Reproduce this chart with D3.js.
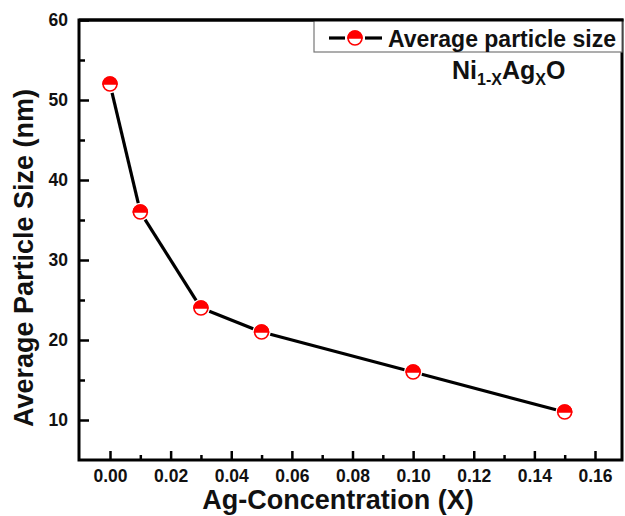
<!DOCTYPE html>
<html><head><meta charset="utf-8">
<script src="https://cdn.jsdelivr.net/npm/d3@7"></script>
<style>
body{margin:0;background:#fff;}
svg{display:block;font-family:"Liberation Sans",Arial,sans-serif;font-weight:bold;}
</style></head>
<body><svg id="c" width="625" height="516"></svg>
<script>
const concentration = [0.00, 0.01, 0.03, 0.05, 0.10, 0.15];
const particleSize = [52, 36, 24, 21, 16, 11];
const xTicks = [0.00,0.02,0.04,0.06,0.08,0.10,0.12,0.14,0.16];
const xMinor = [0.01,0.03,0.05,0.07,0.09,0.11,0.13,0.15];
const yTicks = [10,20,30,40,50,60];
const yMinor = [15,25,35,45,55];
const seriesName = "Average particle size";

const FONT = '"Liberation Sans",Arial,sans-serif';
const svg = d3.select("#c");
const L=79, R=622, T=20, B=460;
const x = d3.scaleLinear().domain([0,0.16]).range([110,595]);
const y = d3.scaleLinear().domain([10,60]).range([420,20]);

function styleAxis(g){
  g.attr("font-family",FONT).attr("font-weight","bold");
  g.select(".domain").remove();
  g.selectAll(".tick line").attr("stroke","#000").attr("stroke-width",2.5);
  g.selectAll(".tick text").attr("font-size",17.5).attr("fill","#111");
}

// x axis
const gx = svg.append("g").attr("transform",`translate(0,${B})`)
  .call(d3.axisBottom(x).tickValues(xTicks).tickFormat(d3.format(".2f")).tickSizeInner(-9).tickSizeOuter(0).tickPadding(10));
styleAxis(gx);
const gxm = svg.append("g").attr("transform",`translate(0,${B})`)
  .call(d3.axisBottom(x).tickValues(xMinor).tickFormat("").tickSizeInner(-5).tickSizeOuter(0));
styleAxis(gxm);

// y axis
const gy = svg.append("g").attr("transform",`translate(${L},0)`)
  .call(d3.axisLeft(y).tickValues(yTicks).tickSizeInner(-10).tickSizeOuter(0).tickPadding(11));
styleAxis(gy);
const gym = svg.append("g").attr("transform",`translate(${L},0)`)
  .call(d3.axisLeft(y).tickValues(yMinor).tickFormat("").tickSizeInner(-6).tickSizeOuter(0));
styleAxis(gym);

// frame
svg.append("rect").attr("x",L).attr("y",T).attr("width",R-L).attr("height",B-T)
  .attr("fill","none").attr("stroke","#000").attr("stroke-width",3);

// line segments with gaps at markers
const r = 7;
const pts = concentration.map((c,i)=>[x(c), y(particleSize[i])]);
const segs = [];
for(let i=0;i<pts.length-1;i++){
  const [x1,y1]=pts[i],[x2,y2]=pts[i+1];
  const dx=x2-x1, dy=y2-y1, len=Math.hypot(dx,dy), g=r+2;
  segs.push([x1+dx*g/len, y1+dy*g/len, x2-dx*g/len, y2-dy*g/len]);
}
svg.append("g").selectAll("line").data(segs).join("line")
  .attr("x1",d=>d[0]).attr("y1",d=>d[1]).attr("x2",d=>d[2]).attr("y2",d=>d[3])
  .attr("stroke","#000").attr("stroke-width",3.2);

function marker(g, cx, cy){
  g.append("circle").attr("cx",cx).attr("cy",cy).attr("r",r).attr("fill","#fff").attr("stroke","#ff0000").attr("stroke-width",1.6);
  g.append("path").attr("d",`M${cx-r},${cy} A${r},${r} 0 0 1 ${cx+r},${cy} Z`).attr("fill","#ff0000").attr("stroke","#ff0000").attr("stroke-width",1.6);
}
const mg = svg.append("g");
concentration.forEach((c,i)=>marker(mg, x(c), y(particleSize[i])));

// legend
const lg = svg.append("g");
lg.append("rect").attr("x",314).attr("y",T).attr("width",R-314).attr("height",32)
  .attr("fill","#fff").attr("stroke","#777").attr("stroke-width",1.2);
lg.append("line").attr("x1",329).attr("x2",345).attr("y1",38).attr("y2",38).attr("stroke","#000").attr("stroke-width",3.2);
lg.append("line").attr("x1",365).attr("x2",382).attr("y1",38).attr("y2",38).attr("stroke","#000").attr("stroke-width",3.2);
marker(lg,355,38);
lg.append("text").attr("x",388).attr("y",47).attr("font-size",23).attr("fill","#111").text(seriesName);
// redraw top frame border over legend
svg.append("line").attr("x1",L).attr("x2",R+1.5).attr("y1",T).attr("y2",T).attr("stroke","#000").attr("stroke-width",3);

// formula
const f = svg.append("text").attr("x",452).attr("y",79).attr("font-size",25).attr("fill","#111");
f.append("tspan").text("Ni");
f.append("tspan").attr("font-size",16).attr("dy",6).text("1-X");
f.append("tspan").attr("dy",-6).text("Ag");
f.append("tspan").attr("font-size",16).attr("dy",6).text("X");
f.append("tspan").attr("dy",-6).text("O");

// axis titles
svg.append("text").attr("x",338).attr("y",509).attr("text-anchor","middle").attr("font-size",27).attr("fill","#111").text("Ag-Concentration (X)");
svg.append("text").attr("transform","translate(33,258) rotate(-90)").attr("text-anchor","middle").attr("font-size",27).attr("fill","#111").text("Average Particle Size (nm)");
</script></body></html>
